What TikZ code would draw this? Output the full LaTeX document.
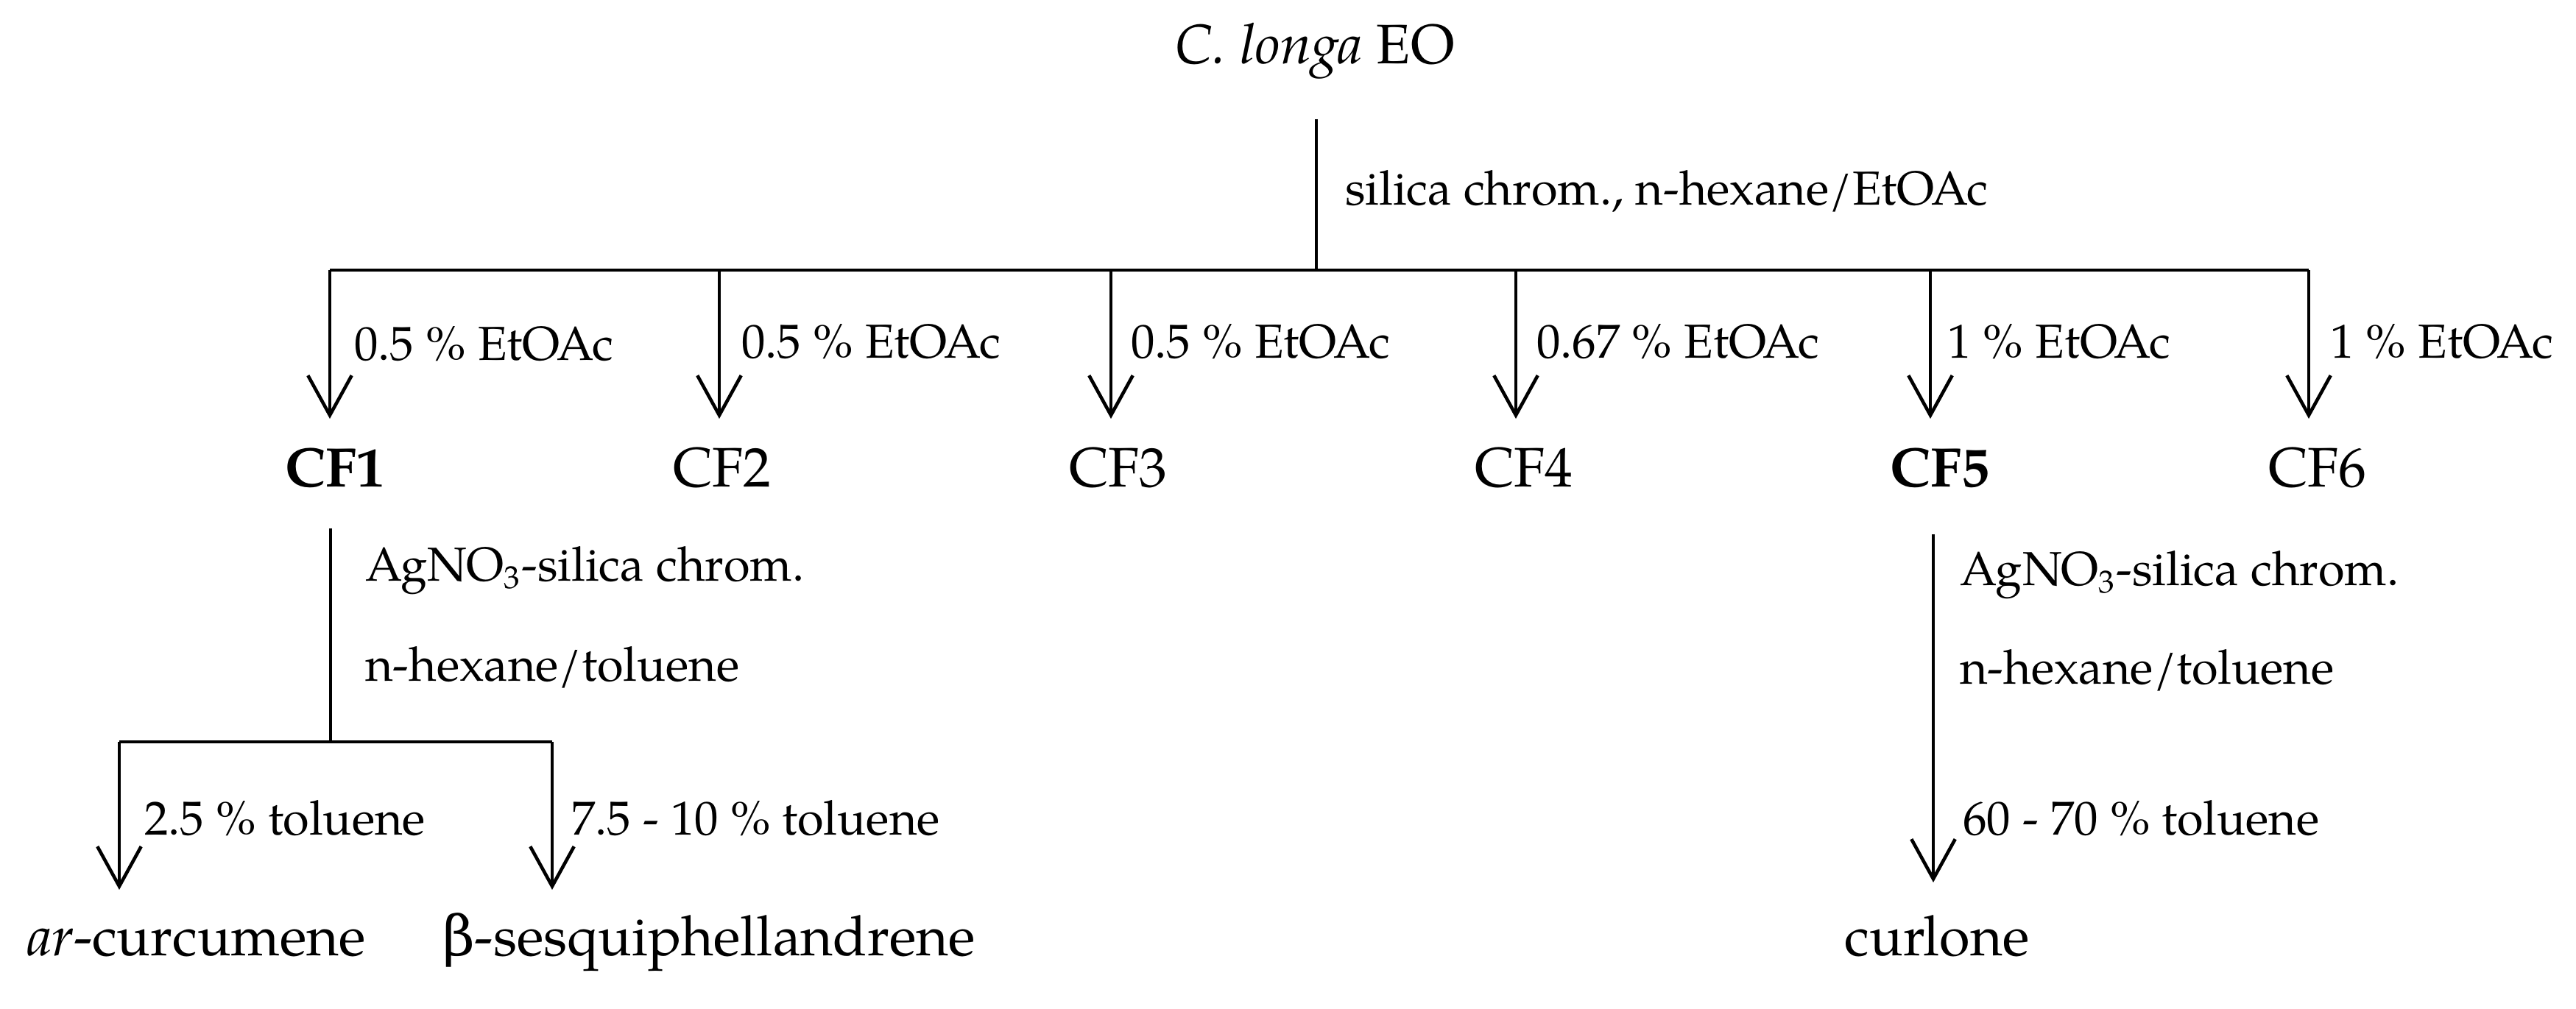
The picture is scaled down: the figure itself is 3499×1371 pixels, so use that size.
\documentclass[tikz,border=0pt]{standalone}
\usepackage{fontspec}
\setmainfont{TeX Gyre Pagella}
\newfontfamily\grk{DejaVu Serif}
\usetikzlibrary{arrows.meta}
\tikzset{
  title/.style={font=\fontsize{14}{16}\selectfont, inner sep=0pt, anchor=base},
  titlew/.style={font=\fontsize{14}{16}\selectfont, inner sep=0pt, anchor=base west},
  lab/.style={font=\fontsize{12}{14}\selectfont, inner sep=0pt, anchor=base west},
  bar/.style={line width=0.85pt},
  stem/.style={line width=0.85pt},
  arr/.style={stem, -{Straight Barb[length=10pt,width=11pt,line width=0.85pt]}},
}
\begin{document}
\begin{tikzpicture}[x=0.185pt,y=-0.185pt]
\useasboundingbox (0,0) rectangle (3499,1371);
% top
\node[title] (eo) at (1786,87) {\textit{C. longa} EO};
\coordinate (s0) at (1788,162);
\coordinate (j0) at (1788,367);
\draw[stem] (s0) -- (j0);
\node[lab] (l0) at (1826,279) {silica chrom., n-hexane/EtOAc};
% main bar
\coordinate (b1) at (448,367);
\coordinate (b2) at (977,367);
\coordinate (b3) at (1509,367);
\coordinate (b4) at (2059,367);
\coordinate (b5) at (2622,367);
\coordinate (b6) at (3136,367);
\draw[bar] (b1) -- (b6);
\coordinate (t1) at (448,569);
\coordinate (t2) at (977,569);
\coordinate (t3) at (1509,569);
\coordinate (t4) at (2059,569);
\coordinate (t5) at (2622,569);
\coordinate (t6) at (3136,569);
\foreach \i in {1,...,6} {\draw[arr] (b\i) -- (t\i);}
\node[lab] (e1) at (480,490) {0.5 \% EtOAc};
\node[lab] (e2) at (1006,487) {0.5 \% EtOAc};
\node[lab] (e3) at (1535,487) {0.5 \% EtOAc};
\node[lab] (e4) at (2086,487) {0.67 \% EtOAc};
\node[lab] (e5) at (2644,487) {1 \% EtOAc};
\node[lab] (e6) at (3164,487) {1 \% EtOAc};
\node[title] (cf1) at (455,662) {\textbf{CF1}};
\node[title] (cf2) at (981,662) {CF2};
\node[title] (cf3) at (1519,662) {CF3};
\node[title] (cf4) at (2070,662) {CF4};
\node[title] (cf5) at (2635,662) {\textbf{CF5}};
\node[title] (cf6) at (3148,662) {CF6};
% CF1 branch
\coordinate (s1) at (449,718);
\coordinate (j1) at (449,1008);
\draw[stem] (s1) -- (j1);
\node[lab] (a1) at (495,790) {AgNO\textsubscript{3}-silica chrom.};
\node[lab] (h1) at (495,926) {n-hexane/toluene};
\coordinate (c1) at (162,1008);
\coordinate (c2) at (750,1008);
\draw[bar] (c1) -- (c2);
\coordinate (d1) at (162,1209);
\coordinate (d2) at (750,1209);
\draw[arr] (c1) -- (d1);
\draw[arr] (c2) -- (d2);
\node[lab] (g1) at (195,1135) {2.5 \% toluene};
\node[lab] (g2) at (775,1135) {7.5 - 10 \% toluene};
\node[titlew] (p1) at (36,1299) {\textit{ar}-curcumene};
\node[titlew] (p2) at (600,1299) {{\grk β}-sesquiphellandrene};
% CF5 branch
\coordinate (s5) at (2626,726);
\coordinate (d5) at (2626,1199);
\draw[arr] (s5) -- (d5);
\node[lab] (a5) at (2661,796) {AgNO\textsubscript{3}-silica chrom.};
\node[lab] (h5) at (2661,930) {n-hexane/toluene};
\node[lab] (g5) at (2665,1135) {60 - 70 \% toluene};
\node[title] (p5) at (2631,1299) {curlone};
\end{tikzpicture}
\end{document}
